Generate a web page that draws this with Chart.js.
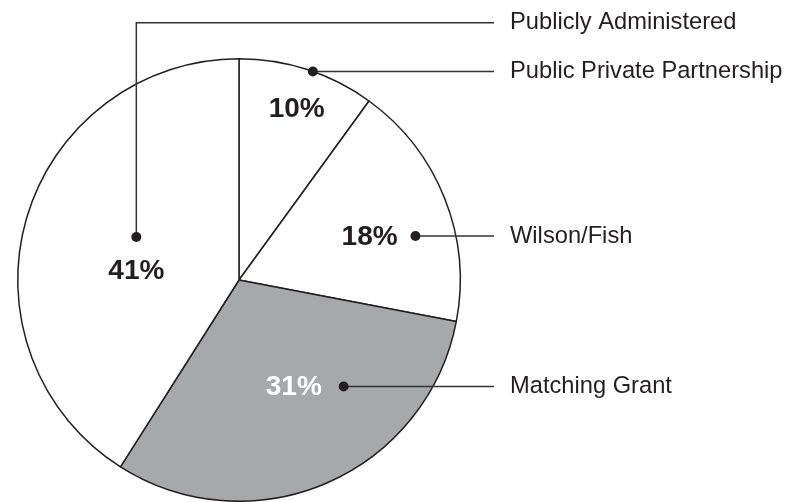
<!DOCTYPE html>
<html>
<head>
<meta charset="utf-8">
<style>
  html, body { margin: 0; padding: 0; background: #ffffff; }
  #wrap { width: 787px; height: 502px; position: relative; }
</style>
<script src="https://cdn.jsdelivr.net/npm/chart.js@4.4.1/dist/chart.umd.min.js"></script>
</head>
<body>
<div id="wrap"><canvas id="pie" width="787" height="502"></canvas></div>
<script>
// Program shares by administration type (percent), clockwise from 12 o'clock
const categories = ['Public Private Partnership', 'Wilson/Fish', 'Matching Grant', 'Publicly Administered'];
const shares = [10, 18, 31, 41];
const sliceColors = ['#ffffff', '#ffffff', '#a7a8aa', '#ffffff'];
const percentColors = ['#231f20', '#231f20', '#ffffff', '#231f20'];

// Callout placement per slice, as polar coordinates around the pie centre:
// angle in degrees clockwise from 12 o'clock, radius as a fraction of the outer radius.
const calloutLayout = [
  { text: [18.6, 0.818], dot: [19.5, 1.0],  elbow: false },
  { text: [71.4, 0.623], dot: [76.0, 0.822], elbow: false },
  { text: [152.8, 0.542], dot: [135.5, 0.675], elbow: false },
  { text: [275.5, 0.466], dot: [292.7, 0.503], elbow: true, elbowY: 22.7 }
];

const INK = '#231f20';
const LINE = '#333333';

function polar(cx, cy, r, deg, frac) {
  const a = (deg - 90) * Math.PI / 180;
  return { x: cx + Math.cos(a) * r * frac, y: cy + Math.sin(a) * r * frac };
}

const calloutPlugin = {
  id: 'callouts',
  afterDatasetsDraw(chart) {
    const meta = chart.getDatasetMeta(0);
    const ctx = chart.ctx;
    const first = meta.data[0];
    const cx = first.x, cy = first.y, r = first.outerRadius;
    const lineEndX = cx + 255;
    const labelX = cx + 271;

    ctx.save();
    meta.data.forEach((arc, i) => {
      const lay = calloutLayout[i];
      const tp = polar(cx, cy, r, lay.text[0], lay.text[1]);
      const dp = polar(cx, cy, r, lay.dot[0], lay.dot[1]);

      // leader line
      ctx.strokeStyle = LINE;
      ctx.lineWidth = 1.5;
      ctx.beginPath();
      ctx.moveTo(dp.x, dp.y);
      let labelY = dp.y;
      if (lay.elbow) {
        ctx.lineTo(dp.x, lay.elbowY);
        ctx.lineTo(lineEndX, lay.elbowY);
        labelY = lay.elbowY;
      } else {
        ctx.lineTo(lineEndX, dp.y);
      }
      ctx.stroke();

      // dot
      ctx.fillStyle = INK;
      ctx.beginPath();
      ctx.arc(dp.x, dp.y, 5, 0, Math.PI * 2);
      ctx.fill();

      // percentage inside the slice
      ctx.fillStyle = percentColors[i];
      ctx.font = 'bold 28px "Liberation Sans", Arial, Helvetica, sans-serif';
      ctx.textAlign = 'center';
      ctx.textBaseline = 'middle';
      ctx.fillText(shares[i] + '%', tp.x, tp.y + 1);

      // category name
      ctx.fillStyle = INK;
      ctx.font = '23.7px "Liberation Sans", Arial, Helvetica, sans-serif';
      ctx.textAlign = 'left';
      ctx.fillText(categories[i], labelX, labelY);
    });
    ctx.restore();
  }
};

new Chart(document.getElementById('pie'), {
  type: 'pie',
  data: {
    labels: categories,
    datasets: [{
      data: shares,
      backgroundColor: sliceColors,
      borderColor: '#231f20',
      borderWidth: 1.5,
      hoverOffset: 0
    }]
  },
  options: {
    responsive: false,
    animation: false,
    layout: { padding: { left: 17, right: 326, top: 58, bottom: 0 } },
    plugins: {
      legend: { display: false },
      tooltip: { enabled: false }
    },
    events: []
  },
  plugins: [calloutPlugin]
});
</script>
</body>
</html>
